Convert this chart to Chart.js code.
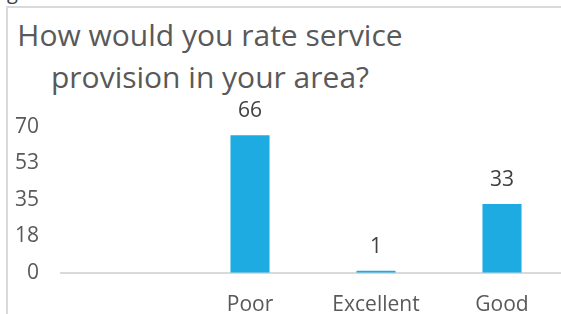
<!DOCTYPE html>
<html>
<head>
<meta charset="utf-8">
<script src="https://cdn.jsdelivr.net/npm/chart.js@4"></script>
<style>
  html, body { margin: 0; padding: 0; background: #fff; overflow: hidden; width: 561px; height: 314px; }
  #frame { position: absolute; left: 6px; top: 6px; width: 600px; height: 400px;
           border-left: 2px solid #dadada; border-top: 2px solid #dadada; }
  #cut { position: absolute; left: 7px; top: -22px; font: 20px "Open Sans", sans-serif; color: #404040; }
  #title { position: absolute; left: 0; top: 14px; width: 420px; text-align: center;
           font: 30px/42px "Open Sans", sans-serif; color: #595959; }
  #chart { position: absolute; left: -22px; top: 0; }
</style>
</head>
<body>
<div id="cut">g</div>
<div id="frame"></div>
<div id="title">How would you rate service<br>provision in your area?</div>
<canvas id="chart" width="602" height="344"></canvas>
<script>
// Dados
const categorias = ['', 'Poor', 'Excellent', 'Good'];
const respostas = [null, 66, 1, 33];
const rotulosEixoY = ['0', '18', '35', '53', '70'];

const corBarra = '#1EABE2';
const corTexto = '#595959';

// Escreve o valor acima de cada barra
const rotulosDados = {
    id: 'rotulosDados',
    afterDatasetsDraw(chart) {
        const ctx = chart.ctx;
        ctx.save();
        ctx.font = '21px "Open Sans", sans-serif';
        ctx.fillStyle = '#404040';
        ctx.textAlign = 'center';
        ctx.textBaseline = 'alphabetic';
        chart.getDatasetMeta(0).data.forEach((bar, i) => {
            const v = respostas[i];
            if (v === null) return;
            ctx.fillText(String(v), bar.x, bar.y - 18);
        });
        ctx.restore();
    }
};

new Chart(document.getElementById('chart'), {
    type: 'bar',
    data: {
        labels: categorias,
        datasets: [{
            data: respostas,
            backgroundColor: corBarra,
            borderWidth: 0,
            categoryPercentage: 1,
            barPercentage: 0.31
        }]
    },
    options: {
        responsive: false,
        animation: false,
        layout: { padding: { left: 15, right: 15, top: 127, bottom: 6 } },
        plugins: {
            legend: { display: false },
            tooltip: { enabled: false },
            title: { display: false }
        },
        scales: {
            y: {
                min: 0,
                max: 70,
                grid: { display: false, drawTicks: false },
                border: { display: false },
                ticks: {
                    stepSize: 17.5,
                    padding: 22,
                    color: corTexto,
                    font: { family: 'Open Sans', size: 21 },
                    callback: (val, idx) => rotulosEixoY[idx]
                }
            },
            x: {
                grid: { display: false, drawTicks: false },
                border: { display: true, color: '#d9d9d9', width: 2 },
                ticks: {
                    padding: 20,
                    color: corTexto,
                    font: { family: 'Open Sans', size: 21 }
                }
            }
        }
    },
    plugins: [rotulosDados]
});
</script>
</body>
</html>
